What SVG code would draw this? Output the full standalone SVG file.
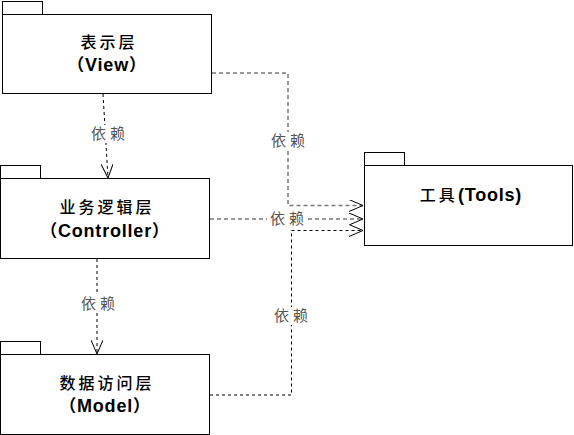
<svg xmlns="http://www.w3.org/2000/svg" width="574" height="435" viewBox="0 0 574 435">
<style>
.pkg{fill:#fff;stroke:#000;stroke-width:1}
.t{font-family:"Liberation Sans","Noto Sans CJK SC",sans-serif;font-size:18px;text-anchor:middle;fill:#000;letter-spacing:0.8px}
.cn{font-family:"Noto Sans CJK SC",sans-serif;font-size:16px;text-anchor:middle;fill:#000;letter-spacing:3px;font-weight:500}
.b{font-weight:bold}
.p{font-family:"Noto Sans CJK SC",sans-serif;font-size:17px}
.lbl{font-family:"Noto Sans CJK SC",sans-serif;font-size:15px;fill:#555;text-anchor:middle;letter-spacing:4px}
.bg{fill:#fff;stroke:none}
.dep{fill:none;stroke:#000;stroke-width:1;stroke-dasharray:3 3}
.dep2{fill:none;stroke:#777;stroke-width:1.5;stroke-dasharray:4 3}
</style>
<defs>
<marker id="open" viewBox="0 0 14 12" refX="14" refY="6" markerWidth="14" markerHeight="12" markerUnits="userSpaceOnUse" orient="auto">
<path d="M0,0 L14,6 L0,12" fill="none" stroke="#000" stroke-width="1"/>
</marker>
</defs>
<rect width="574" height="435" fill="#fff"/>

<g id="view">
<rect class="pkg" x="2.5" y="1.5" width="40" height="13"/>
<rect class="pkg" x="2.5" y="14.5" width="209" height="79"/>
<text class="cn" x="109" y="48">表示层</text>
<text class="t b" x="107" y="71"><tspan class="p">（</tspan>View<tspan class="p">）</tspan></text>
</g>

<g id="controller">
<rect class="pkg" x="0.5" y="165.5" width="40" height="13"/>
<rect class="pkg" x="0.5" y="178.5" width="209" height="80"/>
<text class="cn" x="107" y="213">业务逻辑层</text>
<text class="t b" x="105" y="237"><tspan class="p">（</tspan>Controller<tspan class="p">）</tspan></text>
</g>

<g id="model">
<rect class="pkg" x="0.5" y="341.5" width="40" height="13"/>
<rect class="pkg" x="0.5" y="354.5" width="209" height="80"/>
<text class="cn" x="107" y="389">数据访问层</text>
<text class="t b" x="105" y="412"><tspan class="p">（</tspan>Model<tspan class="p">）</tspan></text>
</g>

<g id="tools">
<rect class="pkg" x="364.5" y="152.5" width="40" height="13"/>
<rect class="pkg" x="364.5" y="165.5" width="208" height="80"/>
<text class="t" x="471" y="201"><tspan font-family="Noto Sans CJK SC, sans-serif" font-size="16px" font-weight="500" letter-spacing="3px">工具</tspan><tspan class="b">(Tools)</tspan></text>
</g>

<g id="connectors">
<path class="dep" d="M103,94 L108,178" marker-end="url(#open)"/>
<path class="dep" d="M97,259 L97,354" marker-end="url(#open)"/>
<path class="dep2" d="M212,73 L288,73 L288,205.5 L363,205.5" marker-end="url(#open)"/>
<path class="dep2" d="M210,219 L363,219" marker-end="url(#open)"/>
<path class="dep" d="M210,395 L291.5,395 L291.5,230.5 L363,230.5" marker-end="url(#open)"/>

<rect class="bg" x="88" y="125" width="40" height="18"/>
<text class="lbl" x="110" y="139">依赖</text>
<rect class="bg" x="78" y="295" width="40" height="18"/>
<text class="lbl" x="100" y="309">依赖</text>
<rect class="bg" x="268" y="132" width="40" height="18"/>
<text class="lbl" x="290" y="146">依赖</text>
<rect class="bg" x="267" y="210" width="40" height="18"/>
<text class="lbl" x="289" y="224">依赖</text>
<rect class="bg" x="271" y="307" width="40" height="18"/>
<text class="lbl" x="293" y="321">依赖</text>
</g>
</svg>
